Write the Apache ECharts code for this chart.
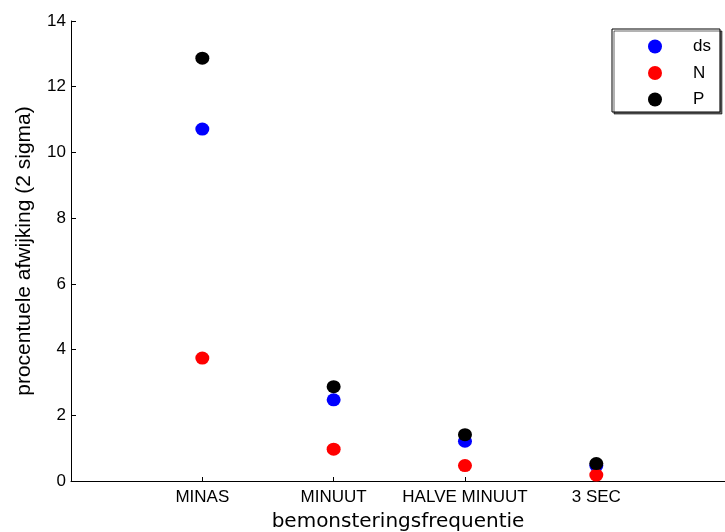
<!DOCTYPE html>
<html>
<head>
<meta charset="utf-8">
<title>procentuele afwijking</title>
<script src="https://cdn.jsdelivr.net/npm/echarts@6/dist/echarts.min.js"></script>
<style>
  html, body { margin: 0; padding: 0; background: #fff; }
  #main { width: 725px; height: 532px; }
</style>
</head>
<body>
<div id="main"></div>
<script>
// categorieen op de x-as (posities 1..4)
var categories = ['MINAS', 'MINUUT', 'HALVE MINUUT', '3 SEC'];
// 2 sigma afwijking in procent
var dsValues = [10.71, 2.47, 1.21, 0.47];
var nValues = [3.74, 0.97, 0.47, 0.18];
var pValues = [12.87, 2.87, 1.41, 0.53];
var yTicks = [0, 2, 4, 6, 8, 10, 12, 14];

function toPoints(arr) {
    var out = [];
    for (var i = 0; i < arr.length; i++) {
        out.push([i + 1, arr[i]]);
    }
    return out;
}

// tick alleen op de categorieen
var xTickValues = [];
for (var k = 0; k < categories.length; k++) {
    xTickValues.push(k + 1);
}

var myChart = echarts.init(document.getElementById('main'), null, { renderer: 'canvas' });

var option = {
    backgroundColor: '#fff',
    animation: false,
    textStyle: { fontFamily: 'Liberation Sans, Arial, sans-serif', color: '#000' },
    // de rechterkant van de as valt net buiten het beeld
    grid: { left: 71, top: 21, bottom: 51, right: 0, containLabel: false, outerBoundsMode: 'none' },
    legend: {
        data: ['ds', 'N', 'P'],
        orient: 'vertical',
        left: 612,
        top: 29,
        icon: 'circle',
        itemWidth: 66,
        itemHeight: 14,
        itemGap: 9.5,
        padding: [9, 9, 4, 36],
        backgroundColor: '#fff',
        borderColor: '#000',
        borderWidth: 1,
        borderRadius: 0,
        shadowColor: 'rgba(0,0,0,0.6)',
        shadowBlur: 0,
        shadowOffsetX: 2,
        shadowOffsetY: 2,
        textStyle: { fontSize: 17, color: '#000', fontFamily: 'Liberation Sans, Arial, sans-serif' }
    },
    xAxis: {
        type: 'value',
        min: 0,
        max: 4.98,
        interval: 1,
        name: 'bemonsteringsfrequentie',
        nameLocation: 'middle',
        nameGap: 31,
        nameTextStyle: { fontSize: 20, fontFamily: 'DejaVu Sans, sans-serif', color: '#000' },
        axisLine: { show: true, onZero: false, lineStyle: { color: '#000', width: 1 } },
        axisTick: {
            show: true,
            inside: true,
            length: 4,
            customValues: xTickValues,
            lineStyle: { color: '#000' }
        },
        axisLabel: {
            fontSize: 17,
            color: '#000',
            margin: 8,
            customValues: xTickValues,
            formatter: function (v) {
                return categories[Math.round(v) - 1] || '';
            }
        },
        splitLine: { show: false }
    },
    yAxis: {
        type: 'value',
        min: yTicks[0],
        max: yTicks[yTicks.length - 1],
        interval: 2,
        name: 'procentuele afwijking (2 sigma)',
        nameLocation: 'middle',
        nameGap: 36,
        nameTextStyle: { fontSize: 21, color: '#000' },
        axisLine: { show: true, onZero: false, lineStyle: { color: '#000', width: 1 } },
        axisTick: { show: true, inside: true, length: 5, lineStyle: { color: '#000' } },
        axisLabel: { fontSize: 17, color: '#000', margin: 5 },
        splitLine: { show: false }
    },
    series: [{
        name: 'ds',
        type: 'scatter',
        symbol: 'circle',
        symbolSize: [14, 13],
        itemStyle: { color: '#0000ff', opacity: 1 },
        data: toPoints(dsValues)
    }, {
        name: 'N',
        type: 'scatter',
        symbol: 'circle',
        symbolSize: [14, 13],
        itemStyle: { color: '#ff0000', opacity: 1 },
        data: toPoints(nValues)
    }, {
        name: 'P',
        type: 'scatter',
        symbol: 'circle',
        symbolSize: [14, 13],
        itemStyle: { color: '#000000', opacity: 1 },
        data: toPoints(pValues)
    }]
};

myChart.setOption(option);
</script>
</body>
</html>
